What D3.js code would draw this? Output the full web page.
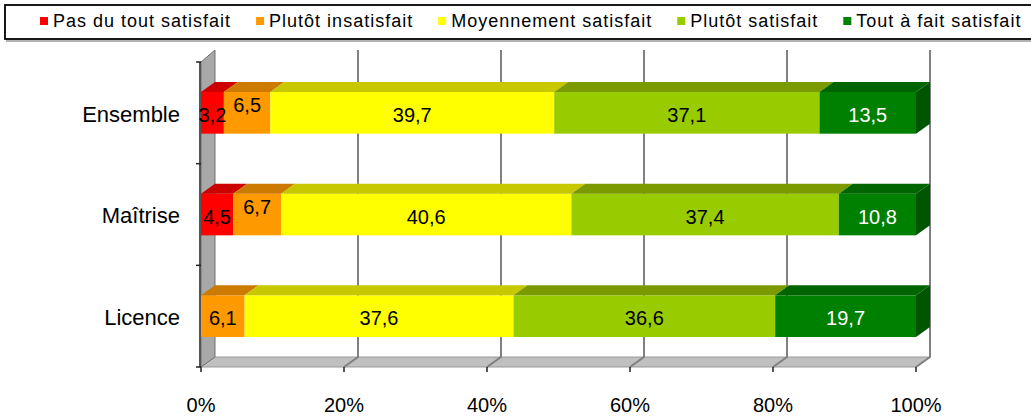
<!DOCTYPE html>
<html>
<head>
<meta charset="utf-8">
<script src="https://cdn.jsdelivr.net/npm/d3@7"></script>
<style>
  body { margin: 0; background: #fff; }
  svg { display: block; font-family: "Liberation Sans", Arial, sans-serif; }
</style>
</head>
<body>
<div id="chart"></div>
<script>
// data
var categories = ["Ensemble", "Maîtrise", "Licence"];
var pasDuTout = [3.2, 4.5, 0];
var plutotInsat = [6.5, 6.7, 6.1];
var moyennement = [39.7, 40.6, 37.6];
var plutotSat = [37.1, 37.4, 36.6];
var toutAFait = [13.5, 10.8, 19.7];
var seriesNames = ["Pas du tout satisfait", "Plutôt insatisfait", "Moyennement satisfait", "Plutôt satisfait", "Tout à fait satisfait"];
var xTicks = [0, 20, 40, 60, 80, 100];

var seriesValues = [pasDuTout, plutotInsat, moyennement, plutotSat, toutAFait];
var frontCol = ["#ff0000", "#ff9900", "#ffff00", "#99cc00", "#008000"];
var topCol = ["#cc0000", "#cc7a00", "#c8c800", "#7a9a00", "#006400"];
var sideCol = ["#aa0000", "#aa6600", "#aaaa00", "#668000", "#005500"];
var textCol = ["#000", "#000", "#000", "#000", "#fff"];

var W = 1031, H = 418;
var dx = 14, dy = -10;   // depth offset
var fmt = d3.format(".1f");

var svg = d3.select("#chart").append("svg")
    .attr("width", W)
    .attr("height", H);

var x = d3.scaleLinear().domain([0, 100]).range([201, 916]);
var y = d3.scaleBand().domain(categories).range([62, 367])
    .paddingInner(0.59).paddingOuter(0.295);

var top0 = 62, bot0 = 367;

// floor
svg.append("path")
  .attr("d", "M" + x(0) + "," + bot0 + "L" + (x(0) + dx) + "," + (bot0 + dy) +
    "L" + (x(100) + dx) + "," + (bot0 + dy) + "L" + x(100) + "," + bot0 + "Z")
  .attr("fill", "#c0c0c0")
  .attr("stroke", "#999")
  .attr("stroke-width", 1);

// gridlines on back wall + floor
xTicks.filter(v => v > 0).forEach(function(v) {
  svg.append("path")
    .attr("d", "M" + (x(v) + dx) + "," + (top0 + dy - 2) + "L" + (x(v) + dx) + "," + (bot0 + dy) +
      "L" + x(v) + "," + bot0)
    .attr("fill", "none")
    .attr("stroke", "#808080")
    .attr("stroke-width", 2);
});

// left wall
svg.append("path")
  .attr("d", "M" + x(0) + "," + top0 + "L" + (x(0) + dx) + "," + (top0 + dy - 2) +
    "L" + (x(0) + dx) + "," + (bot0 + dy) + "L" + x(0) + "," + bot0 + "Z")
  .attr("fill", "#a8a8a8")
  .attr("stroke", "#707070")
  .attr("stroke-width", 1);
svg.append("line")
  .attr("x1", x(0) - 1).attr("x2", x(0) - 1)
  .attr("y1", top0).attr("y2", bot0)
  .attr("stroke", "#555").attr("stroke-width", 2);

// bars
categories.forEach(function(cat, ci) {
  var y0 = y(cat), y1 = y(cat) + y.bandwidth();
  var acc = 0;
  var segs = seriesValues.map(function(vals, si) {
    var s = {si: si, v: vals[ci], a: acc, b: acc + vals[ci]};
    acc += vals[ci];
    return s;
  }).filter(s => s.v > 0);
  var g = svg.append("g");

  segs.forEach(function(s) {
    var xa = x(s.a), xb = x(s.b);
    g.append("rect")
      .attr("x", xa).attr("y", y0)
      .attr("width", xb - xa).attr("height", y1 - y0)
      .attr("fill", frontCol[s.si]);
    g.append("path")
      .attr("d", "M" + xa + "," + y0 + "L" + xb + "," + y0 + "L" + (xb + dx) + "," + (y0 + dy) +
        "L" + (xa + dx) + "," + (y0 + dy) + "Z")
      .attr("fill", topCol[s.si]);
  });
  var last = segs[segs.length - 1];
  var xe = x(last.b);
  g.append("path")
    .attr("d", "M" + xe + "," + y0 + "L" + (xe + dx) + "," + (y0 + dy) + "L" + (xe + dx) + "," + (y1 + dy) +
      "L" + xe + "," + y1 + "Z")
    .attr("fill", sideCol[last.si]);

  // labels (a label next to a narrow segment is lifted, like Excel does)
  var prevNarrow = false;
  segs.forEach(function(s, k) {
    var w = x(s.b) - x(s.a);
    var raise = (k > 0 && prevNarrow) ? -10 : 0;
    g.append("text")
      .attr("x", (x(s.a) + x(s.b)) / 2)
      .attr("y", (y0 + y1) / 2 + 2 + raise)
      .attr("dy", "0.36em")
      .attr("text-anchor", "middle")
      .attr("font-size", 20)
      .attr("fill", textCol[s.si])
      .text(fmt(s.v).replace(".", ","));
    prevNarrow = w < 36;
  });
});

// category labels
svg.selectAll(".cat").data(categories).enter()
  .append("text")
  .attr("class", "cat")
  .attr("x", 180)
  .attr("y", d => y(d) + y.bandwidth() / 2 + 1)
  .attr("dy", "0.36em")
  .attr("text-anchor", "end")
  .attr("font-size", 22)
  .attr("fill", "#000")
  .text(d => d);

// y ticks
d3.range(categories.length + 1).forEach(function(i) {
  var yy = top0 + (bot0 - top0) * i / categories.length;
  svg.append("line")
    .attr("x1", x(0) - 5).attr("x2", x(0))
    .attr("y1", yy).attr("y2", yy)
    .attr("stroke", "#222").attr("stroke-width", 1.5);
});

// x ticks + labels
xTicks.forEach(function(v) {
  svg.append("line")
    .attr("x1", x(v)).attr("x2", x(v))
    .attr("y1", bot0).attr("y2", bot0 + 5)
    .attr("stroke", "#222").attr("stroke-width", 1.5);
  svg.append("text")
    .attr("x", x(v))
    .attr("y", 412)
    .attr("text-anchor", "middle")
    .attr("font-size", 20)
    .attr("fill", "#000")
    .text(v + "%");
});

// legend
var leg = svg.append("g");
leg.append("line")
  .attr("x1", 6).attr("x2", W).attr("y1", 41).attr("y2", 41)
  .attr("stroke", "#999").attr("stroke-width", 1.5);
leg.append("rect")
  .attr("x", 5).attr("y", 5).attr("width", W + 10).attr("height", 34)
  .attr("fill", "#fff").attr("stroke", "#000").attr("stroke-width", 1.8);

var lx = 40;
seriesNames.forEach(function(name, i) {
  leg.append("rect")
    .attr("x", lx).attr("y", 17)
    .attr("width", 8).attr("height", 8)
    .attr("fill", frontCol[i]);
  var t = leg.append("text")
    .attr("x", lx + 13)
    .attr("y", 27)
    .attr("font-size", 18)
    .attr("letter-spacing", "1px")
    .attr("fill", "#000")
    .text(name);
  lx += 13 + t.node().getComputedTextLength() + 25;
});
</script>
</body>
</html>
